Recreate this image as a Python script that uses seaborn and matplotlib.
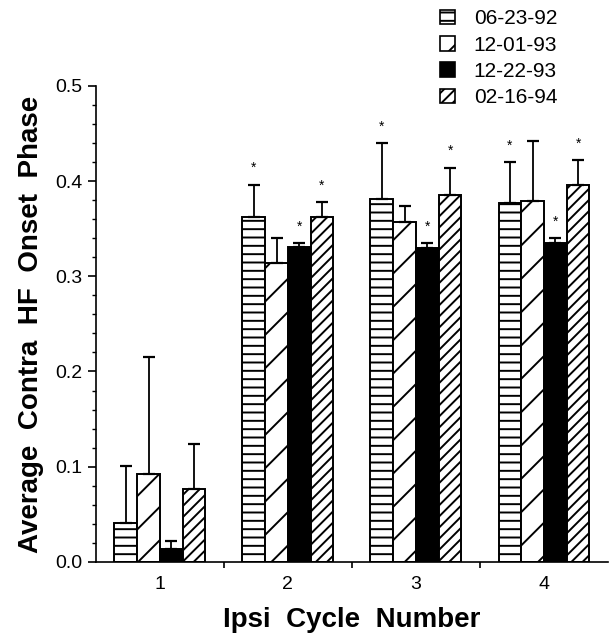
import pandas as pd
import matplotlib
matplotlib.use("Agg")
import matplotlib.pyplot as plt
from matplotlib.patches import Patch
from matplotlib.ticker import MultipleLocator
import seaborn as sns

cycles = ["1", "2", "3", "4"]
dates = ["06-23-92", "12-01-93", "12-22-93", "02-16-94"]

mean_062392 = [0.041, 0.362, 0.381, 0.377]
mean_120193 = [0.092, 0.314, 0.357, 0.379]
mean_122293 = [0.014, 0.331, 0.330, 0.335]
mean_021694 = [0.077, 0.362, 0.385, 0.396]

err_062392 = [0.060, 0.034, 0.059, 0.043]
err_120193 = [0.123, 0.026, 0.017, 0.063]
err_122293 = [0.008, 0.004, 0.005, 0.005]
err_021694 = [0.047, 0.016, 0.029, 0.026]

star_062392 = [0, 1, 1, 1]
star_120193 = [0, 0, 0, 0]
star_122293 = [0, 1, 1, 1]
star_021694 = [0, 1, 1, 1]

means = [mean_062392, mean_120193, mean_122293, mean_021694]
errs = [err_062392, err_120193, err_122293, err_021694]
stars = [star_062392, star_120193, star_122293, star_021694]

hatches = ["--", "/", "", "///"]
faces = ["white", "white", "black", "white"]

rows = []
for d, m in zip(dates, means):
    for c, v in zip(cycles, m):
        rows.append({"cycle": c, "date": d, "phase": v})
df = pd.DataFrame(rows)

sns.set_style("ticks")
plt.rcParams["font.family"] = ["Liberation Sans", "DejaVu Sans"]
plt.rcParams["hatch.linewidth"] = 1.4
plt.rcParams["text.color"] = "black"
plt.rcParams["axes.labelcolor"] = "black"
plt.rcParams["axes.edgecolor"] = "black"
plt.rcParams["xtick.color"] = "black"
plt.rcParams["ytick.color"] = "black"

fig = plt.figure(figsize=(6.11, 6.37), dpi=100)
ax = fig.add_axes([0.157, 0.118, 0.838, 0.747])

sns.barplot(data=df, x="cycle", y="phase", hue="date", order=cycles,
            hue_order=dates, width=0.71, errorbar=None, legend=False,
            palette=["white"] * 4, edgecolor="black", linewidth=1.4, ax=ax)

bar_groups = list(ax.containers)
for k, cont in enumerate(bar_groups):
    xs = []
    for p in cont.patches:
        p.set_hatch(hatches[k])
        p.set_facecolor(faces[k])
        p.set_edgecolor("black")
        xs.append(p.get_x() + p.get_width() / 2)
    ax.errorbar(xs, means[k], yerr=[[0] * 4, errs[k]], fmt="none",
                ecolor="black", elinewidth=1.3, capsize=4, capthick=1.6,
                zorder=1)
    for x, m, e, s in zip(xs, means[k], errs[k], stars[k]):
        if s:
            ax.annotate("*", (x, m + e), xytext=(0, 7), textcoords="offset points",
                        ha="center", va="bottom", fontsize=10)

ax.set_ylim(0, 0.5)
ax.set_xlim(-0.5, 3.5)
ax.yaxis.set_major_locator(MultipleLocator(0.1))
ax.yaxis.set_minor_locator(MultipleLocator(0.02))
ax.set_yticks([0, 0.1, 0.2, 0.3, 0.4, 0.5])
ax.set_yticklabels(["0.0", "0.1", "0.2", "0.3", "0.4", "0.5"])
ax.set_xticks([0.5, 1.5, 2.5], minor=True)
ax.tick_params(axis="x", which="major", length=0, labelsize=14, pad=10)
ax.tick_params(axis="x", which="minor", length=4, width=1.2)
ax.tick_params(axis="y", which="major", length=6, width=1.2, labelsize=14)
ax.tick_params(axis="y", which="minor", length=3, width=1)
sns.despine(ax=ax)
ax.spines["left"].set_linewidth(1.2)
ax.spines["bottom"].set_linewidth(1.2)

ax.set_xlabel("Ipsi  Cycle  Number", fontsize=20, fontweight="bold", labelpad=10)
ax.set_ylabel("Average  Contra  HF  Onset  Phase", fontsize=20, fontweight="bold",
              labelpad=8)

handles = [Patch(facecolor=faces[k], edgecolor="black", hatch=hatches[k],
                 linewidth=1.2) for k in range(4)]
fig.legend(handles, dates, loc="upper left", bbox_to_anchor=(0.697, 1.008),
           frameon=False, fontsize=15, handlelength=0.7, handleheight=0.7,
           handletextpad=0.9, labelspacing=0.35, borderpad=0.2)

fig.savefig("out.png", dpi=100)
